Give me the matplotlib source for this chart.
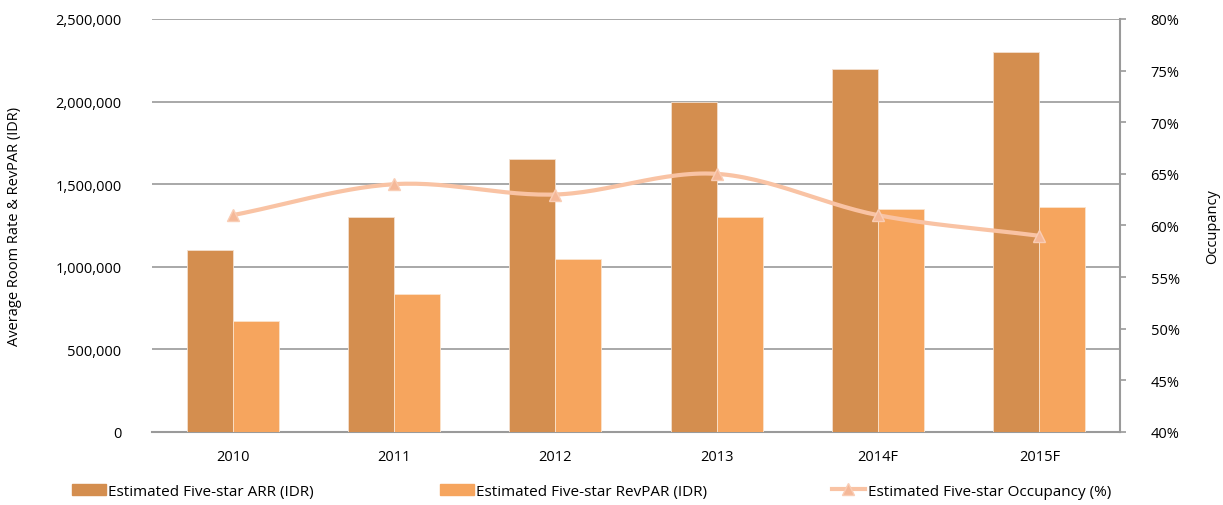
import numpy as np
import matplotlib
matplotlib.use("Agg")
import matplotlib.pyplot as plt
from matplotlib.ticker import FuncFormatter, MultipleLocator
from matplotlib.lines import Line2D
from matplotlib.patches import Patch

plt.rcParams['font.family'] = ['Open Sans', 'DejaVu Sans']

years = ['2010', '2011', '2012', '2013', '2014F', '2015F']
arr = [1100000, 1300000, 1650000, 2000000, 2200000, 2300000]
revpar = [670000, 835000, 1045000, 1300000, 1350000, 1360000]
occupancy = [61, 64, 63, 65, 61, 59]

c_arr = '#D48E4F'
c_rev = '#F6A55E'
c_occ = '#F9C3A4'
grid_c = '#9A9A9A'


def smooth(x, y, n=30, t=0.5):
    # Catmull-Rom curve through the points, like an Excel smoothed line
    x = np.asarray(x, float)
    y = np.asarray(y, float)
    px = np.concatenate([[2 * x[0] - x[1]], x, [2 * x[-1] - x[-2]]])
    py = np.concatenate([[2 * y[0] - y[1]], y, [2 * y[-1] - y[-2]]])
    xs, ys = [], []
    s = np.linspace(0, 1, n)
    for i in range(1, len(px) - 2):
        for p, out in ((px, xs), (py, ys)):
            p0, p1, p2, p3 = p[i - 1], p[i], p[i + 1], p[i + 2]
            m1 = t * (p2 - p0)
            m2 = t * (p3 - p1)
            h00 = 2 * s**3 - 3 * s**2 + 1
            h10 = s**3 - 2 * s**2 + s
            h01 = -2 * s**3 + 3 * s**2
            h11 = s**3 - s**2
            out.extend(h00 * p1 + h10 * m1 + h01 * p2 + h11 * m2)
    return np.array(xs), np.array(ys)


fig = plt.figure(figsize=(12.23, 5.06), dpi=100)
ax = fig.add_axes([0.1243, 0.1443, 0.7915, 0.8162])
x = np.arange(len(years))
w = 0.286
ax.bar(x - w / 2, arr, w, color=c_arr, edgecolor='#F3E0CF', linewidth=0.6, zorder=3)
ax.bar(x + w / 2, revpar, w, color=c_rev, edgecolor='#FBE3CC', linewidth=0.6, zorder=3)
ax.set_xlim(-0.5, len(years) - 0.5)
ax.set_ylim(0, 2500000)
ax.yaxis.set_major_locator(MultipleLocator(500000))
ax.yaxis.set_major_formatter(FuncFormatter(lambda v, p: f'{int(v):,}'))
ax.grid(axis='y', color=grid_c, linewidth=1.2, zorder=0)
ax.set_axisbelow(True)
ax.set_xticks(x)
ax.set_xticklabels(years)
ax.tick_params(axis='x', length=0, pad=12, labelsize=10.5)
ax.tick_params(axis='y', length=0, pad=22, labelsize=10.5)
for s in ['top', 'left', 'right']:
    ax.spines[s].set_visible(False)
ax.spines['bottom'].set_color(grid_c)
ax.spines['bottom'].set_linewidth(1.5)
ax.set_ylabel('Average Room Rate & RevPAR (IDR)', fontsize=10.5, labelpad=24)

ax2 = ax.twinx()
ax2.set_ylim(40, 80)
ax2.yaxis.set_major_locator(MultipleLocator(5))
ax2.yaxis.set_major_formatter(FuncFormatter(lambda v, p: f'{int(v)}%'))
sx, sy = smooth(x, occupancy)
ax2.plot(sx, sy, color=c_occ, linewidth=3, solid_capstyle='round', zorder=4)
ax2.plot(x, occupancy, linestyle='none', marker='^', markersize=9,
         color='#F5B898', markeredgecolor='#F9CDB5', zorder=5)
for s in ['top', 'left', 'bottom']:
    ax2.spines[s].set_visible(False)
ax2.spines['right'].set_color(grid_c)
ax2.spines['right'].set_linewidth(1.5)
ax2.tick_params(axis='y', length=4, width=1.2, color=grid_c, pad=18, labelsize=10.5)
ax2.set_ylabel('Occupancy', fontsize=10.5, labelpad=18)

handles = [Patch(color=c_arr), Patch(color=c_rev),
           Line2D([0], [0], color=c_occ, linewidth=3, marker='^', markersize=9,
                  markerfacecolor='#F5B898', markeredgecolor='#F9CDB5')]
labels = ['Estimated Five-star ARR (IDR)', 'Estimated Five-star RevPAR (IDR)',
          'Estimated Five-star Occupancy (%)']
for h, lab, lx in zip(handles, labels, [0.059, 0.360, 0.680]):
    fig.legend([h], [lab], loc='center left', bbox_to_anchor=(lx, 0.027),
               frameon=False, fontsize=11, handlelength=2.2,
               handletextpad=0.15, handleheight=0.8, borderpad=0, borderaxespad=0)

fig.savefig('out.png', dpi=100)
